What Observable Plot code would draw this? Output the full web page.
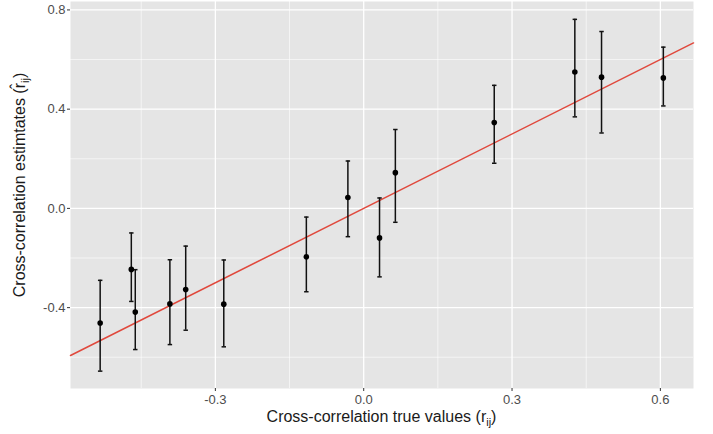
<!DOCTYPE html>
<html>
<head>
<meta charset="utf-8">
<script src="https://cdn.jsdelivr.net/npm/d3@7"></script>
<script src="https://cdn.jsdelivr.net/npm/@observablehq/plot@0.6"></script>
<style>
  html, body { margin: 0; padding: 0; background: #ffffff; }
  #chart { width: 713px; height: 434px; }
  svg { font-family: "Liberation Sans", Arial, Helvetica, sans-serif; }
</style>
</head>
<body>
<div id="chart"></div>
<script>
// True cross-correlation values (x)
const trueValues = [-0.533, -0.470, -0.462, -0.392, -0.360, -0.283, -0.116, -0.032, 0.032, 0.064, 0.264, 0.427, 0.481, 0.606];
// Estimated values (points)
const estimates  = [-0.462, -0.246, -0.418, -0.385, -0.327, -0.386, -0.195, 0.044, -0.119, 0.144, 0.346, 0.550, 0.529, 0.526];
// Error bar lower / upper limits
const lowerCI    = [-0.656, -0.375, -0.569, -0.549, -0.491, -0.558, -0.336, -0.114, -0.276, -0.056, 0.182, 0.369, 0.304, 0.413];
const upperCI    = [-0.290, -0.099, -0.247, -0.207, -0.152, -0.208, -0.035, 0.191, 0.042, 0.318, 0.496, 0.762, 0.713, 0.650];

const xTicks = [-0.3, 0.0, 0.3, 0.6];
const yTicks = [-0.4, 0.0, 0.4, 0.8];
const xMinor = [-0.45, -0.15, 0.15, 0.45];
const yMinor = [-0.6, -0.2, 0.2, 0.6];
const xDomain = [-0.593, 0.667];
const yDomain = [-0.726, 0.834];
const capHalf = 0.0045; // half-width of error-bar caps, in x units

const data = trueValues.map((x, i) => ({x, y: estimates[i], lo: lowerCI[i], hi: upperCI[i]}));
const caps = data.flatMap(d => [{x: d.x, v: d.lo}, {x: d.x, v: d.hi}]);
const identity = [{x: xDomain[0], y: xDomain[0]}, {x: xDomain[1], y: xDomain[1]}];

const fmt = d => d === 0 ? "0.0" : d3.format(".1f")(d).replace("\u2212", "-");

const plot = Plot.plot({
  width: 713,
  height: 434,
  marginLeft: 70,
  marginRight: 20,
  marginTop: 1,
  marginBottom: 46,
  x: {type: "linear", domain: xDomain, label: null},
  y: {type: "linear", domain: yDomain, label: null},
  style: {fontFamily: "'Liberation Sans', Arial, sans-serif", background: "transparent"},
  marks: [
    Plot.frame({fill: "#e5e5e5", stroke: null}),
    Plot.gridX(xMinor, {stroke: "#ffffff", strokeOpacity: 1, strokeWidth: 0.6}),
    Plot.gridY(yMinor, {stroke: "#ffffff", strokeOpacity: 1, strokeWidth: 0.6}),
    Plot.gridX(xTicks, {stroke: "#ffffff", strokeOpacity: 1, strokeWidth: 1.3}),
    Plot.gridY(yTicks, {stroke: "#ffffff", strokeOpacity: 1, strokeWidth: 1.3}),
    Plot.axisX(xTicks, {tickSize: 3, tickPadding: 3, stroke: "#333333", fill: "#4d4d4d", fontSize: 13, tickFormat: fmt, label: null}),
    Plot.axisY(yTicks, {tickSize: 3, tickPadding: 2, stroke: "#333333", fill: "#4d4d4d", fontSize: 13, tickFormat: fmt, label: null}),
    Plot.line(identity, {x: "x", y: "y", stroke: "#e0483c", strokeWidth: 1.5}),
    Plot.ruleX(data, {x: "x", y1: "lo", y2: "hi", stroke: "#111111", strokeWidth: 1.5}),
    Plot.link(caps, {x1: d => d.x - capHalf, x2: d => d.x + capHalf, y1: "v", y2: "v", stroke: "#111111", strokeWidth: 1.5}),
    Plot.dot(data, {x: "x", y: "y", r: 2.8, fill: "#000000", stroke: null})
  ]
});

document.getElementById("chart").appendChild(plot);
const svg = d3.select(plot);

// X axis title with subscript
const xt = svg.append("text")
  .attr("x", 381.5).attr("y", 422)
  .attr("text-anchor", "middle")
  .attr("fill", "#1a1a1a")
  .attr("font-size", 16);
xt.append("tspan").text("Cross-correlation true values (r");
xt.append("tspan").attr("font-size", 11).attr("dy", 4).text("ij");
xt.append("tspan").attr("dy", -4).text(")");

// Y axis title with hat and subscript
const yt = svg.append("text")
  .attr("transform", "translate(25,185) rotate(-90)")
  .attr("text-anchor", "middle")
  .attr("fill", "#1a1a1a")
  .attr("font-size", 16);
yt.append("tspan").text("Cross-correlation estimtates (r\u0302");
yt.append("tspan").attr("font-size", 11).attr("dy", 4).text("ij");
yt.append("tspan").attr("dy", -4).text(")");
</script>
</body>
</html>
